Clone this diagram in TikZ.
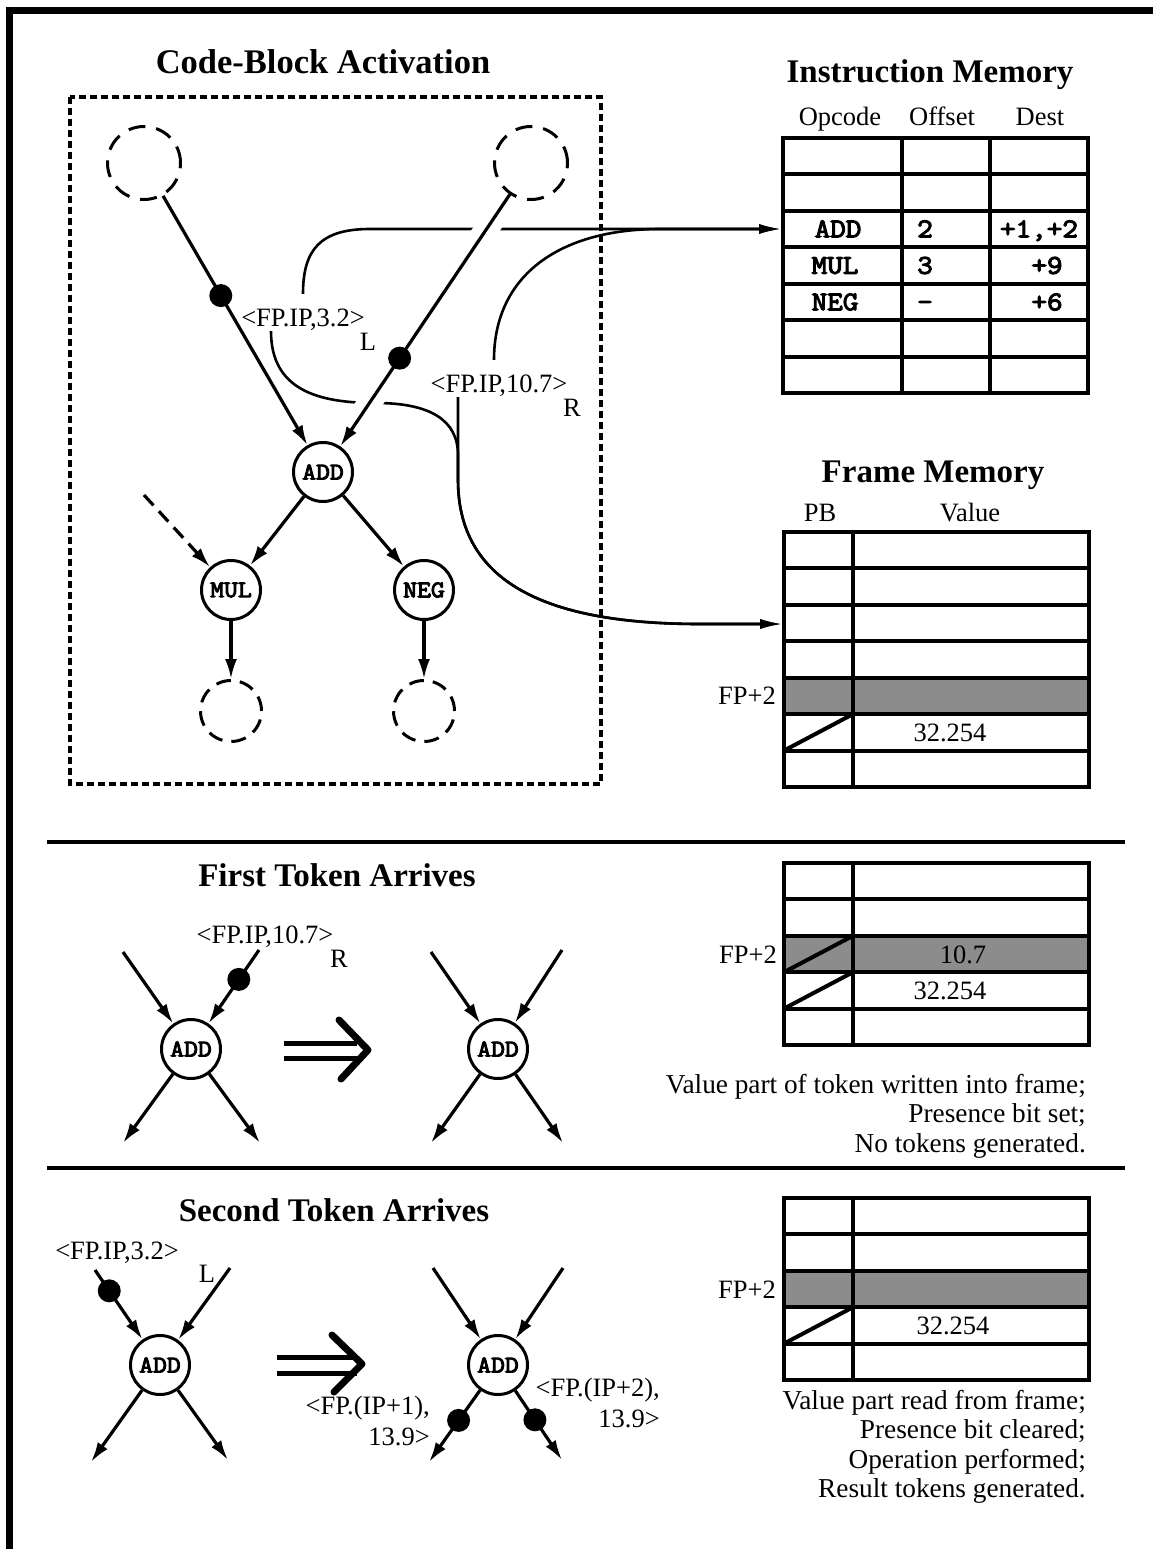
\documentclass[tikz,border=0pt]{standalone}
\usepackage{fontspec}
\setmainfont{Liberation Serif}
\newfontfamily\codefont{Latin Modern Mono}[AutoFakeBold=4, FakeStretch=1.12]
\usepackage{tikz}
\usetikzlibrary{positioning, arrows.meta}

\begin{document}
\begin{tikzpicture}[
  x=1pt, y=-1pt,
  heading/.style={inner sep=0pt, font=\fontsize{33}{36}\selectfont\bfseries},
  txt/.style={inner sep=0pt, text height=19pt, text depth=1pt, font=\fontsize{26.5}{30}\selectfont},
  note/.style={inner sep=0pt, align=right, font=\fontsize{27.3}{29.5}\selectfont},
  cell/.style={inner sep=0pt, text height=16.5pt, text depth=0pt, font=\fontsize{27}{27}\selectfont\codefont\bfseries},
  op/.style={draw, circle, line width=3pt, minimum size=59pt, inner sep=0pt,
    font=\fontsize{24}{24}\selectfont\codefont\bfseries},
  ghost/.style={draw, circle, line width=3pt, minimum size=73pt, dash pattern=on 17pt off 11pt},
  sink/.style={draw, circle, line width=3pt, minimum size=61pt, dash pattern=on 15pt off 9pt},
  flow/.style={line width=3.2pt, -{Latex[length=20pt, width=12pt]}},
  ptr/.style={line width=2.6pt, -{Latex[length=22pt, width=10pt]}},
  halo/.style={preaction={draw=white, line width=24pt, arrows=-, shorten <=6pt, shorten >=25pt}},
  tokdot/.style={circle, fill, inner sep=0pt, minimum size=23pt},
  tbl/.style={line width=4pt},
  busy/.style={fill=black!45},
  thenbar/.style={line width=5pt},
  thenhead/.style={line width=7pt, line cap=round, line join=round}
]
\useasboundingbox (0,0) rectangle (1153,1549);
\draw[line width=7pt] (9.5,1549) -- (9.5,10.5) -- (1153,10.5);

\node[heading, font=\fontsize{34.5}{38}\selectfont\bfseries] (cbaTitle) at (323,62) {Code-Block Activation};
\draw[line width=3.5pt, dash pattern=on 7pt off 4pt] (70,97) rectangle (601,784);

\node[ghost] (srcL) at (144,163) {};
\node[ghost] (srcR) at (531,163) {};
\node[op] (add) at (323,472) {ADD};
\node[op] (mul) at (231,590) {MUL};
\node[op] (neg) at (424,590) {NEG};
\node[sink] (sinkM) at (231,711) {};
\node[sink] (sinkN) at (424,711) {};
\coordinate (extIn) at (144,495);

\node[txt] (tokL) at (303,317) {<FP.IP,3.2>};
\node[txt] (tagL) at (368,341) {L};
\node[txt] (tokR) at (499,383) {<FP.IP,10.7>};
\node[txt] (tagR) at (572,407) {R};

\node[heading] (imTitle) at (930,75) {Instruction Memory};
\node[txt] (hOp) at (840,117) {Opcode};
\node[txt] (hOff) at (942,117) {Offset};
\node[txt] (hDest) at (1040,117) {Dest};
\draw[tbl] (783,138) rectangle (1088,393);
\foreach \y in {174.4,210.9,247.3,283.7,320.1,356.6}
  \draw[tbl] (783,\y) -- (1088,\y);
\draw[tbl] (902,138) -- (902,393) (990,138) -- (990,393);
\node[cell] (opAdd) at (838,229) {ADD};
\node[cell] (offAdd) at (925,229) {2};
\node[cell] (dstAdd) at (1039,229) {+1,+2};
\node[cell] (opMul) at (835,265.5) {MUL};
\node[cell] (offMul) at (925,265.5) {3};
\node[cell] (dstMul) at (1047,265.5) {+9};
\node[cell] (opNeg) at (835,302) {NEG};
\node[cell] (offNeg) at (925,302) {-};
\node[cell] (dstNeg) at (1047,302) {+6};
\coordinate (imAdd) at (781,229);

\node[heading] (fmTitle) at (933,475) {Frame Memory};
\node[txt] (hPB) at (820,512) {PB};
\node[txt] (hVal) at (970,512) {Value};
\fill[busy] (784,677.7) rectangle (1089,714.1);
\draw[tbl] (784,532) rectangle (1089,787);
\foreach \y in {568.4,604.9,641.3,677.7,714.1,750.6}
  \draw[tbl] (784,\y) -- (1089,\y);
\draw[tbl] (853,532) -- (853,787);
\draw[tbl] (784,750.6) -- (853,714.1);
\node[txt] (fpA) at (747,695) {FP+2};
\node[txt] (valA) at (950,732) {32.254};
\coordinate (fmSlot) at (782,624);

\draw[ptr] ([yshift=13pt]tokL.north) .. controls (303,250) and (320,229) .. (370,229) -- (imAdd);
\draw[ptr] ([xshift=-5pt, yshift=13pt]tokR.north) .. controls (494,275) and (560,229) .. (660,229) -- (imAdd);
\draw[ptr] ([xshift=-32pt, yshift=-4pt]tokL.south) .. controls (271,390) and (318,403) .. (376,403)
  .. controls (430,403) and (458,420) .. (458,455) -- (458,480)
  .. controls (458,590) and (560,624) .. (700,624) -- (fmSlot);
\draw[ptr] ([xshift=-41pt, yshift=-4pt]tokR.south) -- (458,480)
  .. controls (458,590) and (560,624) .. (700,624) -- (fmSlot);

\draw[flow] (srcL) -- node[tokdot, pos=0.4] (dotL) {} (add);
\draw[flow, halo] (srcR) -- node[tokdot, pos=0.65] (dotR) {} (add);
\draw[flow] (add) -- (mul);
\draw[flow] (add) -- (neg);
\draw[flow, dash pattern=on 14pt off 8pt] (extIn) -- (mul);
\draw[flow] (mul) -- (sinkM);
\draw[flow] (neg) -- (sinkN);

\draw[line width=4pt] (47,842) -- (1125,842);
\draw[line width=4pt] (47,1168) -- (1125,1168);

\node[heading] (ftTitle) at (337,875) {First Token Arrives};
\node[op] (addA) at (191,1049) {ADD};
\coordinate (aInL) at (123,952);
\coordinate (aInR) at (259,950);
\coordinate (aOutL) at (123,1143);
\coordinate (aOutR) at (260,1143);
\draw[flow] (aInL) -- (addA);
\draw[flow] (aInR) -- node[tokdot, pos=0.4] (dotA) {} (addA);
\draw[flow] (addA) -- (aOutL);
\draw[flow] (addA) -- (aOutR);
\node[txt] (tokA) at (265,934) {<FP.IP,10.7>};
\node[txt] (tagA) at (339,958) {R};
\draw[thenbar] (284,1043) -- (357,1043) (284,1058) -- (357,1058);
\draw[thenhead] (339,1020) -- (368,1050) -- (341,1079);
\node[op] (addB) at (498,1049) {ADD};
\coordinate (bInL) at (431,952);
\coordinate (bInR) at (562,950);
\coordinate (bOutL) at (431,1143);
\coordinate (bOutR) at (563,1143);
\draw[flow] (bInL) -- (addB);
\draw[flow] (bInR) -- (addB);
\draw[flow] (addB) -- (bOutL);
\draw[flow] (addB) -- (bOutR);

\fill[busy] (784,935.8) rectangle (1089,972.2);
\draw[tbl] (784,863) rectangle (1089,1045);
\foreach \y in {899.4,935.8,972.2,1008.6}
  \draw[tbl] (784,\y) -- (1089,\y);
\draw[tbl] (853,863) -- (853,1045);
\draw[tbl] (784,972.2) -- (853,935.8) (784,1008.6) -- (853,972.2);
\node[txt] (fpB) at (748,954) {FP+2};
\node[txt] (newB) at (963,954) {10.7};
\node[txt] (valB) at (950,990) {32.254};
\node[note, anchor=north east] (noteB) at (1086,1074) {Value part of token written into frame;\\Presence bit set;\\No tokens generated.};

\node[heading] (stTitle) at (334,1210) {Second Token Arrives};
\node[op] (addC) at (160,1365) {ADD};
\coordinate (cInL) at (95,1270);
\coordinate (cInR) at (230,1268);
\coordinate (cOutL) at (91,1462);
\coordinate (cOutR) at (228,1460);
\draw[flow] (cInL) -- node[tokdot, pos=0.3] (dotC) {} (addC);
\draw[flow] (cInR) -- (addC);
\draw[flow] (addC) -- (cOutL);
\draw[flow] (addC) -- (cOutR);
\node[txt] (tokC) at (117,1250) {<FP.IP,3.2>};
\node[txt] (tagC) at (207,1273) {L};
\draw[thenbar] (277,1357) -- (357,1357) (277,1373) -- (357,1373);
\draw[thenhead] (332,1335) -- (362,1364) -- (334,1392);
\node[op] (addD) at (498,1365) {ADD};
\coordinate (dInL) at (433,1268);
\coordinate (dInR) at (563,1268);
\coordinate (dOutL) at (429,1462);
\coordinate (dOutR) at (562,1460);
\draw[flow] (dInL) -- (addD);
\draw[flow] (dInR) -- (addD);
\draw[flow] (addD) -- node[tokdot, pos=0.42] (dotD1) {} (dOutL);
\draw[flow] (addD) -- node[tokdot, pos=0.42] (dotD2) {} (dOutR);
\node[note, anchor=east, font=\fontsize{26.5}{31}\selectfont] (resL) at (430,1421) {<FP.(IP+1),\\13.9>};
\node[note, anchor=east, font=\fontsize{26.5}{31}\selectfont] (resR) at (660,1403) {<FP.(IP+2),\\13.9>};

\fill[busy] (784,1270.8) rectangle (1089,1307.2);
\draw[tbl] (784,1198) rectangle (1089,1380);
\foreach \y in {1234.4,1270.8,1307.2,1343.6}
  \draw[tbl] (784,\y) -- (1089,\y);
\draw[tbl] (853,1198) -- (853,1380);
\draw[tbl] (784,1343.6) -- (853,1307.2);
\node[txt] (fpC) at (747,1289) {FP+2};
\node[txt] (valC) at (953,1325) {32.254};
\node[note, anchor=north east] (noteC) at (1086,1390) {Value part read from frame;\\Presence bit cleared;\\Operation performed;\\Result tokens generated.};
\end{tikzpicture}
\end{document}
